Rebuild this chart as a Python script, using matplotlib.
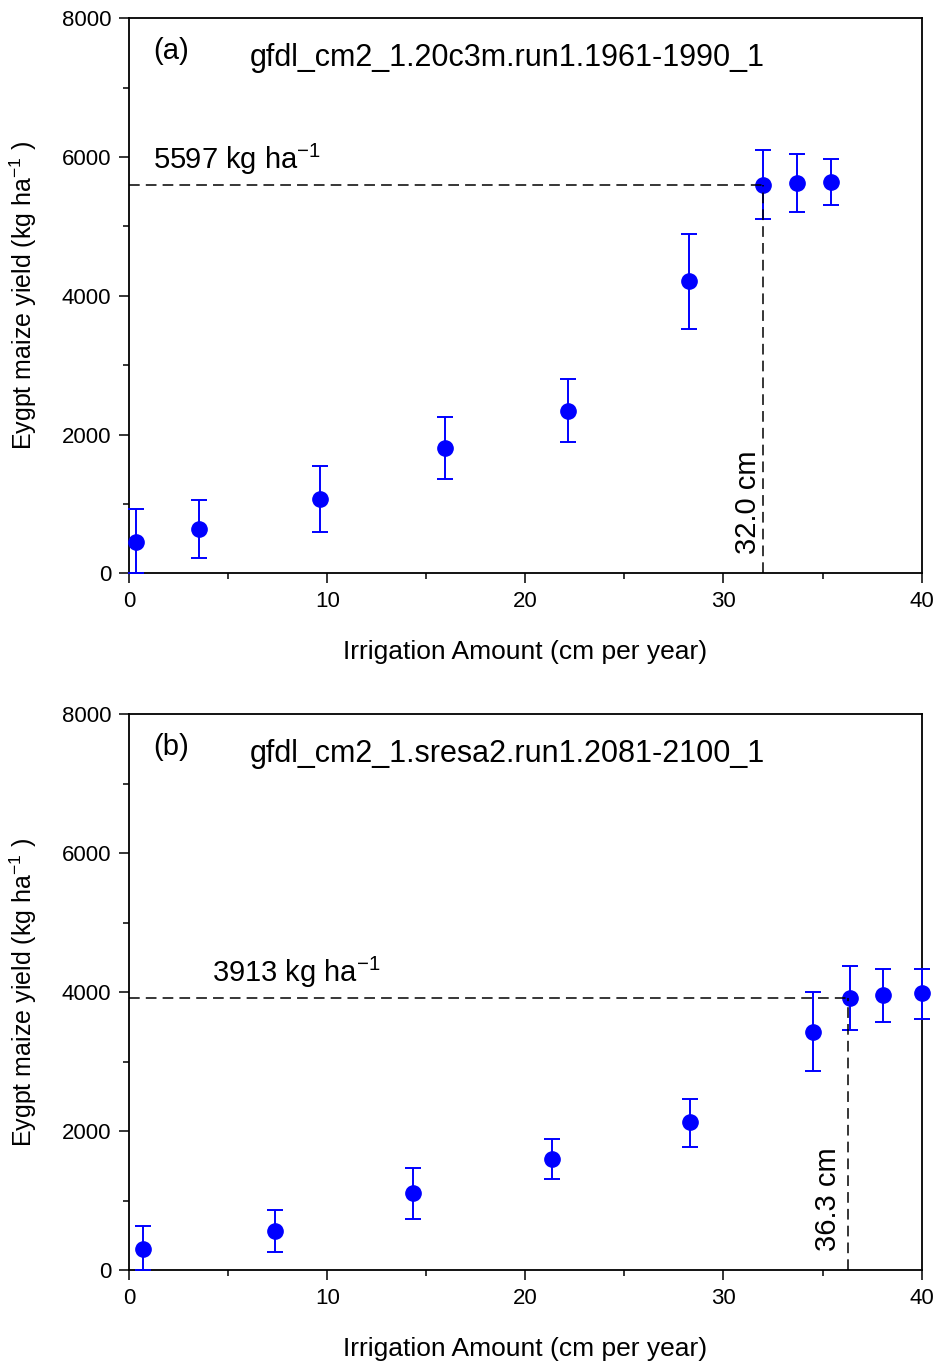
import numpy as np
import matplotlib
matplotlib.use("Agg")
import matplotlib.pyplot as plt
from matplotlib.ticker import MultipleLocator

plt.rcParams["font.family"] = ["Liberation Sans", "DejaVu Sans"]
plt.rcParams["mathtext.fontset"] = "custom"
plt.rcParams["mathtext.rm"] = "Liberation Sans"
plt.rcParams["mathtext.it"] = "Liberation Sans:italic"
plt.rcParams["mathtext.default"] = "regular"

# (a) 1961-1990 baseline
irr_a = [0.34, 3.53, 9.62, 15.92, 22.17, 28.28, 32.0, 33.69, 35.45]
yield_a = [454, 632, 1077, 1799, 2345, 4210, 5597, 5620, 5640]
low_a = [0, 215, 597, 1354, 1885, 3517, 5100, 5200, 5310]
high_a = [933, 1052, 1550, 2258, 2805, 4895, 6095, 6040, 5970]
opt_irr_a = 32.0
opt_yield_a = 5597
run_a = "gfdl_cm2_1.20c3m.run1.1961-1990_1"

# (b) 2081-2100 sresa2
irr_b = [0.67, 7.38, 14.33, 21.35, 28.3, 34.52, 36.39, 38.03, 40.0]
yield_b = [298, 562, 1108, 1597, 2137, 3425, 3915, 3963, 3987]
low_b = [0, 255, 734, 1309, 1777, 2867, 3458, 3569, 3617]
high_b = [630, 860, 1468, 1885, 2460, 3996, 4370, 4337, 4337]
opt_irr_b = 36.3
opt_yield_b = 3913
run_b = "gfdl_cm2_1.sresa2.run1.2081-2100_1"


def plot_panel(ax, x, y, lo, hi, opt_x, opt_y, tag, run, ytext_x, vtext_x):
    y = np.array(y)
    yerr = [y - np.array(lo), np.array(hi) - y]
    ax.errorbar(x, y, yerr=yerr, fmt="o", color="blue", ecolor="blue",
                markersize=11, elinewidth=1.4, capsize=6, capthick=1.4,
                clip_on=False, zorder=3)

    # optimum lines
    ax.plot([0, opt_x], [opt_y, opt_y], color="black", lw=1.1,
            linestyle=(0, (7, 4)), zorder=4)
    ax.plot([opt_x, opt_x], [0, opt_y], color="black", lw=1.1,
            linestyle=(0, (7, 4)), zorder=4)

    ax.text(1.2, 7530, tag, fontsize=21, va="center", ha="left")
    ax.text(6.1, 7420, run, fontsize=22, va="center", ha="left")
    ax.text(ytext_x, opt_y + 110, f"{opt_y} kg ha$^{{-1}}$", fontsize=21,
            va="bottom", ha="left")
    ax.text(vtext_x, 280, f"{opt_x:.1f} cm", fontsize=21, rotation=90,
            va="bottom", ha="right")

    ax.set_xlim(0, 40)
    ax.set_ylim(0, 8000)
    ax.xaxis.set_major_locator(MultipleLocator(10))
    ax.xaxis.set_minor_locator(MultipleLocator(5))
    ax.yaxis.set_major_locator(MultipleLocator(2000))
    ax.yaxis.set_minor_locator(MultipleLocator(1000))
    ax.tick_params(which="major", direction="out", length=7, width=1.1,
                   labelsize=16, pad=6)
    ax.tick_params(which="minor", direction="out", length=4, width=1.1)
    for s in ax.spines.values():
        s.set_linewidth(1.3)

    ax.set_xlabel("Irrigation Amount (cm per year)", fontsize=19)
    ax.set_ylabel("Eygpt maize yield (kg ha$^{-1}$ )", fontsize=18)
    ax.xaxis.set_label_coords(0.5, -0.12)
    ax.yaxis.set_label_coords(-0.114, 0.5)


fig = plt.figure(figsize=(9.37, 13.64), dpi=100)
ax_a = fig.add_axes([0.138, 0.5797, 0.8455, 0.4070])
ax_b = fig.add_axes([0.138, 0.0689, 0.8455, 0.4076])

plot_panel(ax_a, irr_a, yield_a, low_a, high_a, opt_irr_a, opt_yield_a,
           "(a)", run_a, 1.2, opt_irr_a - 0.05)
plot_panel(ax_b, irr_b, yield_b, low_b, high_b, opt_irr_b, opt_yield_b,
           "(b)", run_b, 4.2, opt_irr_b - 0.3)

fig.savefig("out.png", dpi=100)
plt.close(fig)
